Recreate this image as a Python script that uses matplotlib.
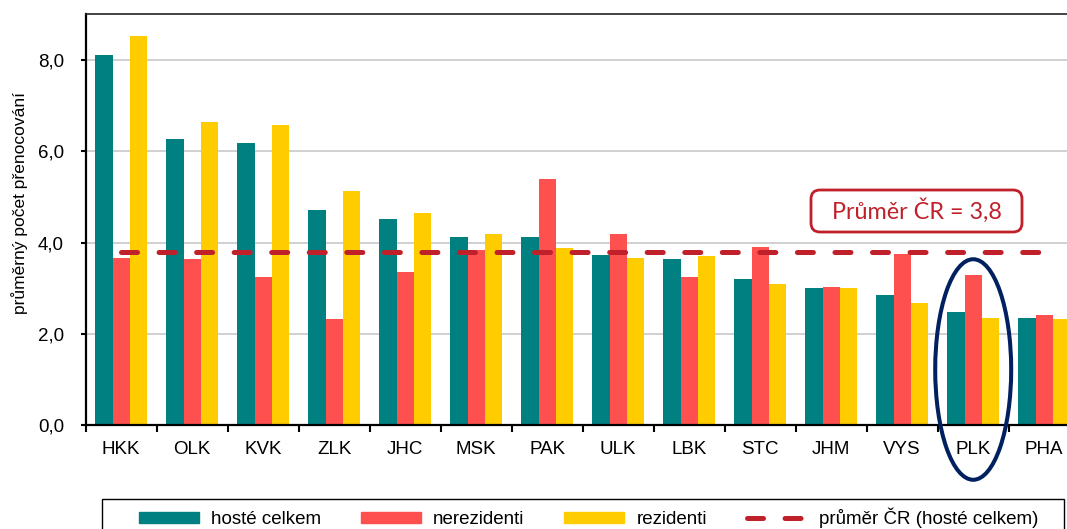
import matplotlib
matplotlib.use('Agg')
import matplotlib.pyplot as plt
from matplotlib.patches import Ellipse, FancyBboxPatch, Patch, Rectangle
from matplotlib.lines import Line2D
from matplotlib.transforms import IdentityTransform
import numpy as np

# ---- data ----
categories = ['HKK', 'OLK', 'KVK', 'ZLK', 'JHC', 'MSK', 'PAK',
              'ULK', 'LBK', 'STC', 'JHM', 'VYS', 'PLK', 'PHA']
hoste_celkem = [8.12, 6.28, 6.19, 4.71, 4.52, 4.13, 4.12, 3.73, 3.65, 3.20, 3.00, 2.85, 2.49, 2.34]
nerezidenti = [3.67, 3.65, 3.24, 2.32, 3.36, 3.85, 5.40, 4.18, 3.25, 3.90, 3.03, 3.76, 3.30, 2.41]
rezidenti = [8.53, 6.64, 6.58, 5.13, 4.66, 4.18, 3.88, 3.67, 3.71, 3.09, 3.00, 2.68, 2.36, 2.32]
prumer_cr = 3.8
highlight = 'PLK'
yticks = [0, 2, 4, 6, 8]
series_labels = ['hosté celkem', 'nerezidenti', 'rezidenti', 'průměr ČR (hosté celkem)']

C_TEAL = '#008080'
C_RED = '#FF5050'
C_YEL = '#FFCC00'
C_AVG = '#C0202A'
C_NAVY = '#002060'
DASH = (0, (3.2, 4.31))

plt.rcParams['font.family'] = ['Liberation Sans', 'DejaVu Sans']

W, H = 1067, 529
fig = plt.figure(figsize=(W / 100, H / 100), dpi=100)
ax = fig.add_axes([85.7 / W, 1 - 425.3 / H, 994 / W, 411.3 / H])

x = np.arange(len(categories))
bw = 0.244
ax.bar(x - bw, hoste_celkem, bw, color=C_TEAL, zorder=2)
ax.bar(x, nerezidenti, bw, color=C_RED, zorder=2)
ax.bar(x + bw, rezidenti, bw, color=C_YEL, zorder=2)
ax.plot(x, [prumer_cr] * len(x), color=C_AVG, lw=3.6,
        linestyle=DASH, dash_capstyle='round', zorder=4)

ax.set_xlim(-0.5, len(categories) - 0.5)
ax.set_ylim(0, 9.008)
ax.set_yticks(yticks)
ax.set_yticklabels([f'{v:.1f}'.replace('.', ',') for v in yticks])
ax.yaxis.grid(True, color='#D0D0D0', lw=1.4)
ax.set_axisbelow(True)

ax.set_xticks(x)
ax.set_xticklabels(categories)
ax.set_xticks(np.arange(-0.5, len(categories), 1), minor=True)
ax.tick_params(axis='x', which='major', length=0, pad=11, labelsize=13.5)
ax.tick_params(axis='x', which='minor', length=5, width=1.5, direction='out')
ax.tick_params(axis='y', length=3.6, width=1.5, pad=12, labelsize=13.5)

for s in ['left', 'bottom']:
    ax.spines[s].set_linewidth(1.6)
    ax.spines[s].set_color('black')
ax.spines['top'].set_linewidth(1.2)
ax.spines['top'].set_color('#222222')
ax.spines['right'].set_visible(False)

# highlight ellipse
hi = categories.index(highlight)
ell = Ellipse((hi, 1.222), 1.07, 4.83, fill=False, ec=C_NAVY, lw=2.9,
              clip_on=False, zorder=5)
ax.add_patch(ell)

# annotation box
box = FancyBboxPatch((811, H - 232), 211, 42,
                     boxstyle='round,pad=0,rounding_size=9',
                     transform=IdentityTransform(), fc='white', ec=C_AVG, lw=2)
fig.add_artist(box)
fig.text(916.5 / W, 1 - 211 / H, 'Průměr ČR = ' + f'{prumer_cr:.1f}'.replace('.', ','),
         ha='center', va='center', fontsize=16.8, family=['Lato', 'DejaVu Sans'],
         color=C_AVG)

# y label
fig.text(20 / W, 1 - 203 / H, 'průměrný počet přenocování', rotation=90,
         ha='center', va='center', fontsize=12.5)

# legend frame
frame = Rectangle((102, -10), 962, (H - 499) + 10, transform=IdentityTransform(),
                  fill=False, ec='black', lw=1.0)
fig.add_artist(frame)

handles = [Patch(color=C_TEAL), Patch(color=C_RED), Patch(color=C_YEL),
           Line2D([], [], color=C_AVG, lw=3.6, linestyle=DASH,
                  dash_capstyle='round')]
leg = fig.legend(handles, series_labels, loc='center left', ncol=4,
                 bbox_to_anchor=(139 / W, 1 - 518 / H),
                 bbox_transform=fig.transFigure, borderaxespad=0, borderpad=0,
                 fontsize=13.5, frameon=False, handlelength=3.2, handleheight=0.53,
                 handletextpad=0.64, columnspacing=2.13)

fig.savefig('out.png', dpi=100)
